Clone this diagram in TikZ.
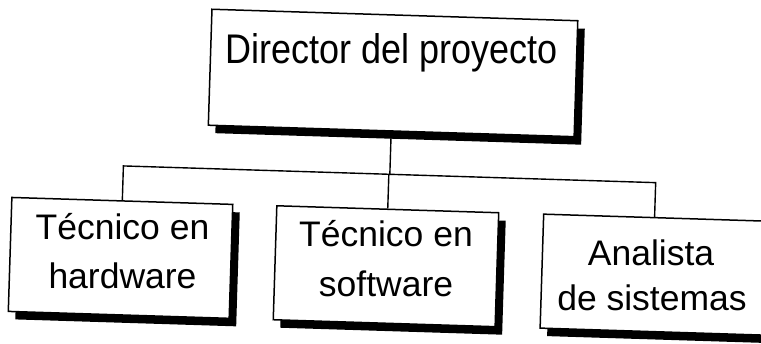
\documentclass[tikz,border=0pt]{standalone}
\usepackage{graphicx}
\usepackage{fontspec}
\setmainfont{Liberation Sans}
\usetikzlibrary{shadows}
\begin{document}
\begin{tikzpicture}[x=1pt,y=-1pt,
  box/.style={draw=black, line width=1.5pt, fill=white, minimum width=#1,
    minimum height=114pt, inner sep=0pt, transform shape,
    drop shadow={shadow xshift=7pt, shadow yshift=-8pt, fill=black, opacity=1}},
  link/.style={line width=1.4pt},
  lbl/.style={anchor=base, inner sep=0pt, font=\fontsize{35.5}{40}\selectfont},
]
\useasboundingbox (0,0) rectangle (761,343);
\clip (0,0) rectangle (761,343);
\begin{scope}[rotate around={-1.8:(380,170)}]
  \node[box=366pt, minimum height=116pt] (dir) at (390,72.6) {};
  \node[box=221pt] (hw) at (123.4,266) {};
  \node[box=222pt] (sw) at (389,266) {};
  \node[box=232pt] (an) at (661,266) {};
  \coordinate (jm) at (390,174);
  \coordinate (jl) at (123.4,174);
  \coordinate (js) at (389,174);
  \coordinate (jr) at (656,174);
  \draw[link] (dir.south) -- (jm);
  \draw[link] (hw.north) -- (jl) -- (jr) -- ([xshift=-5pt]an.north);
  \draw[link] (sw.north) -- (js);
\end{scope}
\node[lbl, font=\fontsize{36}{40}\selectfont] (dirt) at (392,63) {\scalebox{1}[1.15]{Director del proyecto}};
\node[lbl] (hw1) at (122.5,239) {Técnico en};
\node[lbl] (hw2) at (122.5,288) {hardware};
\node[lbl] (sw1) at (386,246) {Técnico en};
\node[lbl] (sw2) at (386,296) {software};
\node[lbl] (an1) at (651,265) {Analista};
\node[lbl] (an2) at (652,310) {de sistemas};
\end{tikzpicture}
\end{document}
